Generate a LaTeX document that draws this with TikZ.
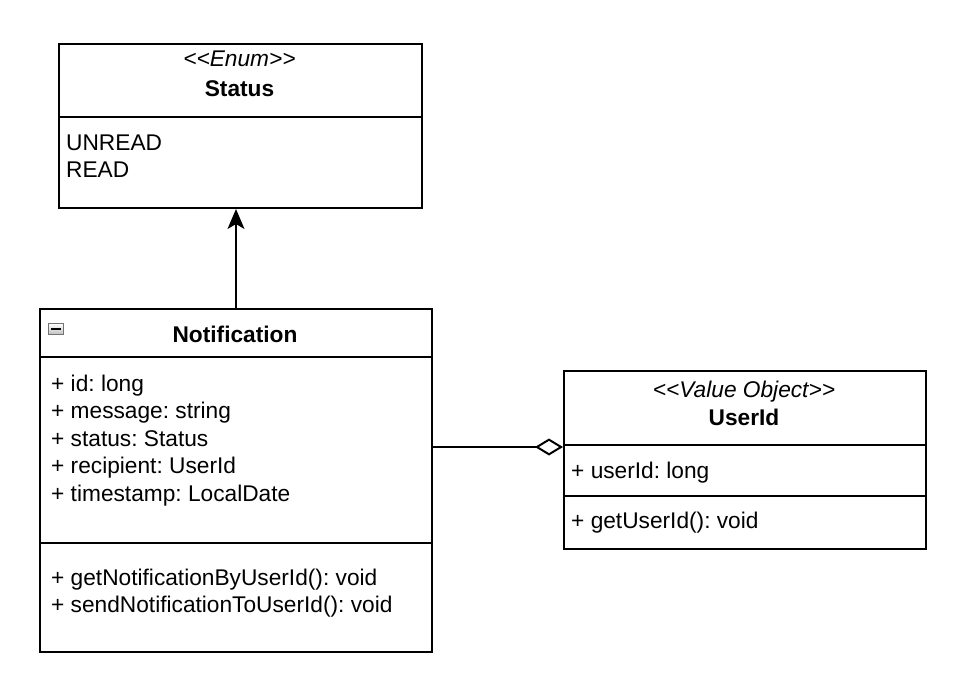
\documentclass[tikz,border=0pt]{standalone}
\usepackage{fontspec}
\setmainfont{Liberation Sans}
\usetikzlibrary{arrows.meta}
\frenchspacing
\tikzset{
  umlbox/.style={draw=black, line width=2pt, fill=white, inner sep=0pt, anchor=north west},
  sep/.style={line width=2pt},
  txt/.style={inner sep=0pt, anchor=base west, font=\fontsize{22.7}{27}\selectfont},
  ctxt/.style={inner sep=0pt, anchor=base, font=\fontsize{22.7}{27}\selectfont},
  conn/.style={line width=2pt},
}
\begin{document}
\begin{tikzpicture}[x=1pt,y=-1pt]
\useasboundingbox (0,0) rectangle (953,690);
% Status
\node[umlbox, minimum width=363pt, minimum height=164pt] (status) at (58,43) {};
\draw[sep] (58,117) -- (421,117);
\node[ctxt] (statusst) at (239.5,67) {\itshape <{}<Enum>{}>};
\node[ctxt] (statustt) at (239.5,97) {\bfseries Status};
\node[txt] (unread) at (66,150) {UNREAD};
\node[txt] (read) at (66,177) {READ};
% Notification
\node[umlbox, minimum width=392pt, minimum height=343pt] (notif) at (39,308) {};
\draw[sep] (39,357) -- (431,357);
\draw[sep] (39,543) -- (431,543);
\node[draw=black!55, line width=1pt, inner sep=0pt, minimum width=15pt, minimum height=11pt, top color=white, bottom color=black!25, anchor=north west] (icon) at (48,323) {};
\draw[line width=1.6pt] ([xshift=3pt]icon.west) -- ([xshift=-3pt]icon.east);
\node[ctxt] (notift) at (235,342) {\bfseries Notification};
\node[txt] (a1) at (51,391) {+ id: long};
\node[txt] (a2) at (51,418.5) {+ message: string};
\node[txt] (a3) at (51,446) {+ status: Status};
\node[txt] (a4) at (51,473.5) {+ recipient: UserId};
\node[txt] (a5) at (51,501) {+ timestamp: LocalDate};
\node[txt] (m1) at (51,585) {+ getNotificationByUserId(): void};
\node[txt] (m2) at (51,612.5) {+ sendNotificationToUserId(): void};
% UserId
\node[umlbox, minimum width=362pt, minimum height=178pt] (userid) at (563,370) {};
\draw[sep] (563,445) -- (925,445);
\draw[sep] (563,496) -- (925,496);
\node[ctxt] (userst) at (744,397) {\itshape <{}<Value Object>{}>};
\node[ctxt] (usert) at (744,425) {\bfseries UserId};
\node[txt] (u1) at (571,478) {+ userId: long};
\node[txt] (u2) at (571,528) {+ getUserId(): void};
% connectors
\coordinate (agg) at (0,447);
\draw[conn, -{Stealth[length=20pt, width=17pt, inset=5pt]}] (notif.north) -- (notif.north |- status.south);
\draw[conn, {Diamond[open, length=28pt, width=17pt, line width=2pt]}-] (userid.west |- agg) -- (notif.east |- agg);
\end{tikzpicture}
\end{document}
